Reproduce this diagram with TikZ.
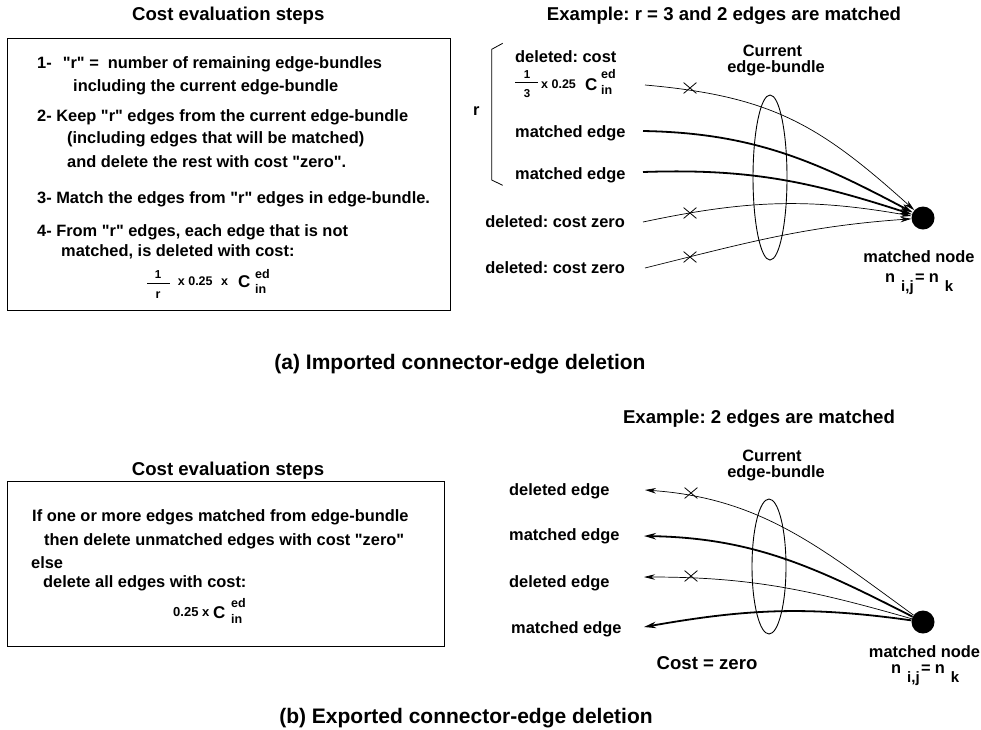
\documentclass[tikz,border=0pt]{standalone}
\usepackage{fontspec}
\setmainfont{Liberation Sans}[Ligatures=TeXOff]
\usetikzlibrary{arrows.meta,shapes.geometric,shapes.misc}
\frenchspacing

\newcommand\szbody{\fontsize{16.4}{18}\selectfont}
\newcommand\szhead{\fontsize{18.6}{20}\selectfont}
\newcommand\szcap{\fontsize{21}{24}\selectfont}
\newcommand\szform{\fontsize{12.5}{14}\selectfont}
\newcommand\szfrac{\fontsize{11.5}{13}\selectfont}
\newcommand\szC{\fontsize{17}{18}\selectfont}
\newcommand\szidx{\fontsize{12.5}{13}\selectfont}
\newcommand\nsub[1]{\raisebox{-9pt}{\fontsize{15}{16}\selectfont #1}}

\tikzset{
  lbl/.style={inner sep=0, anchor=base west, font=\bfseries\szbody},
  lblc/.style={inner sep=0, anchor=base, font=\bfseries\szbody},
  lble/.style={inner sep=0, anchor=base east, font=\bfseries\szbody},
  head/.style={inner sep=0, anchor=base, font=\bfseries\szhead},
  capt/.style={inner sep=0, anchor=base, font=\bfseries\szcap},
  form/.style={inner sep=0, anchor=base west, font=\bfseries\szform},
  idx/.style={inner sep=0, anchor=base west, font=\bfseries\szidx},
  fracpart/.style={inner sep=0, anchor=base, font=\bfseries\szfrac},
  bigC/.style={inner sep=0, anchor=base west, font=\bfseries\szC},
  panel/.style={draw, line width=1pt, anchor=north west, inner sep=0},
  dot/.style={circle, fill=black, minimum size=23pt, inner sep=0},
  bundle/.style={draw, ellipse, line width=0.9pt, inner sep=0},
  xmark/.style={draw, cross out, minimum width=12pt, minimum height=10pt, inner sep=0, line width=0.8pt},
  thinedge/.style={line width=0.7pt, -{Stealth[length=11pt,width=5.5pt]}},
  thickedge/.style={line width=1.8pt, -{Stealth[length=12pt,width=6.5pt]}},
}

\begin{document}
\begin{tikzpicture}[x=1pt, y=-1pt]
\useasboundingbox (0,0) rectangle (981,729);

%% ---------------- (a) imported connector-edge deletion ----------------
\node[head] (hA) at (228.3,20) {Cost evaluation steps};
\node[panel, minimum width=443pt, minimum height=272pt] (boxA) at (7,38) {};

\node[lbl] (a1) at (37,68) {1-\hspace{11pt}"r" =\hspace{9pt}number of remaining edge-bundles};
\node[lbl] (a1b) at (73,91) {including the current edge-bundle};
\node[lbl] (a2) at (37,121) {2- Keep "r" edges from the current edge-bundle};
\node[lbl] (a2b) at (67,143) {(including edges that will be matched)};
\node[lbl] (a2c) at (67,167) {and delete the rest with cost "zero".};
\node[lbl] (a3) at (37,203) {3- Match the edges from "r" edges in edge-bundle.};
\node[lbl] (a4) at (37,236) {4- From "r" edges, each edge that is not};
\node[lbl] (a4b) at (61,256) {matched, is deleted with cost:};

% cost formula (1/r) x 0.25 x C_in^ed
\node[fracpart] (fnA) at (158,278) {1};
\draw[line width=0.9pt] (147,283) -- (170,283);
\node[fracpart, font=\bfseries\szform] (fdA) at (158,298) {r};
\node[form] (fxA) at (177.7,285) {x 0.25};
\node[form] (fxA2) at (221,285) {x};
\node[bigC] (fcA) at (238,287) {C};
\node[idx] (fsupA) at (255,278) {ed};
\node[idx] (fsubA) at (255,293) {in};

% example
\node[head] (exA) at (724,20) {Example: r = 3 and 2 edges are matched};

\draw[line width=0.8pt] (502.7,43.3) -- (491.7,49.3) -- (491.7,180) -- (502.7,185.3);
\node[lbl] (rA) at (473,115) {r};

\node[lbl] (dA) at (515,62) {deleted: cost};
\node[fracpart] (gnA) at (527,78) {1};
\draw[line width=0.9pt] (515,82.5) -- (538,82.5);
\node[fracpart] (gdA) at (527,97) {3};
\node[form] (gxA) at (541,88) {x 0.25};
\node[bigC] (gcA) at (585,90) {C};
\node[idx] (gsupA) at (601,78) {ed};
\node[idx] (gsubA) at (601,94) {in};

\node[lbl] (mA1) at (515,137) {matched edge};
\node[lbl] (mA2) at (515,179) {matched edge};
\node[lble] (zA1) at (625,227) {deleted: cost zero};
\node[lble] (zA2) at (625,273) {deleted: cost zero};

\node[lblc] (cbA) at (772.5,56) {Current};
\node[lblc] (cbA2) at (776,72) {edge-bundle};
\node[bundle, minimum width=34pt, minimum height=165pt] (ellA) at (770,177.5) {};

\node[dot] (nodeA) at (923,218) {};
\node[lblc] (mnA) at (919,262) {matched node};
\node[lbl] (nkA) at (885,282) {n\hspace{6pt}\nsub{i,j}\hspace{1.5pt}=\hspace{4pt}n\hspace{6pt}\nsub{k}};

\coordinate (sA1) at (645,85);
\coordinate (sA2) at (643,131);
\coordinate (sA3) at (643,172);
\coordinate (sA4) at (643,222);
\coordinate (sA5) at (645,268);

\draw[thinedge]  (sA1) to[out=-5, in=138, looseness=1.1] (nodeA);
\draw[thickedge] (sA2) to[out=-1, in=152] (nodeA);
\draw[thickedge] (sA3) to[out=2, in=162] (nodeA);
\draw[thinedge]  (sA4) to[out=12, in=170] (nodeA);
\draw[thinedge]  (sA5) to[out=14, in=184] (nodeA);

\node[xmark] (xA1) at (690,88) {};
\node[xmark] (xA4) at (690,213) {};
\node[xmark] (xA5) at (690,257) {};

\node[capt] (capA) at (460,369) {(a) Imported connector-edge deletion};

%% ---------------- (b) exported connector-edge deletion ----------------
\node[head] (hB) at (228,475) {Cost evaluation steps};
\node[panel, minimum width=437pt, minimum height=165pt] (boxB) at (7,481) {};

\node[lbl] (b1) at (32,521) {If one or more edges matched from edge-bundle};
\node[lbl] (b2) at (44,545) {then delete unmatched edges with cost "zero"};
\node[lbl] (b3) at (31,568) {else};
\node[lbl] (b4) at (43,587) {delete all edges with cost:};

\node[form, font=\bfseries\fontsize{13}{14}\selectfont] (fxB) at (173,616) {0.25 x};
\node[bigC] (fcB) at (213,618) {C};
\node[idx] (fsupB) at (231,607) {ed};
\node[idx] (fsubB) at (231,623) {in};

\node[head] (exB) at (759,423) {Example: 2 edges are matched};

\node[lblc] (cbB) at (772,461) {Current};
\node[lblc] (cbB2) at (776,477) {edge-bundle};
\node[bundle, minimum width=34pt, minimum height=135pt] (ellB) at (769,566.5) {};

\node[lbl] (eB1) at (509,495) {deleted edge};
\node[lbl] (eB2) at (509,540) {matched edge};
\node[lbl] (eB3) at (509,587) {deleted edge};
\node[lbl] (eB4) at (511,633) {matched edge};

\node[dot] (nodeB) at (923,622) {};
\node[lblc] (mnB) at (924.5,657) {matched node};
\node[lbl] (nkB) at (891,673) {n\hspace{6pt}\nsub{i,j}\hspace{1.5pt}=\hspace{4pt}n\hspace{6pt}\nsub{k}};

\node[head] (czB) at (707,669) {Cost = zero};

\coordinate (tB1) at (645,490);
\coordinate (tB2) at (644,536);
\coordinate (tB3) at (644,577);
\coordinate (tB4) at (644,627);

\draw[thinedge]  (nodeB) to[out=144, in=-4] (tB1);
\draw[thickedge] (nodeB) to[out=153, in=-1] (tB2);
\draw[thinedge]  (nodeB) to[out=164, in=0] (tB3);
\draw[thickedge] (nodeB) to[out=172, in=10] (tB4);

\node[xmark] (xB1) at (691,493) {};
\node[xmark] (xB3) at (691,576) {};

\node[capt] (capB) at (466,723) {(b) Exported connector-edge deletion};
\end{tikzpicture}
\end{document}
